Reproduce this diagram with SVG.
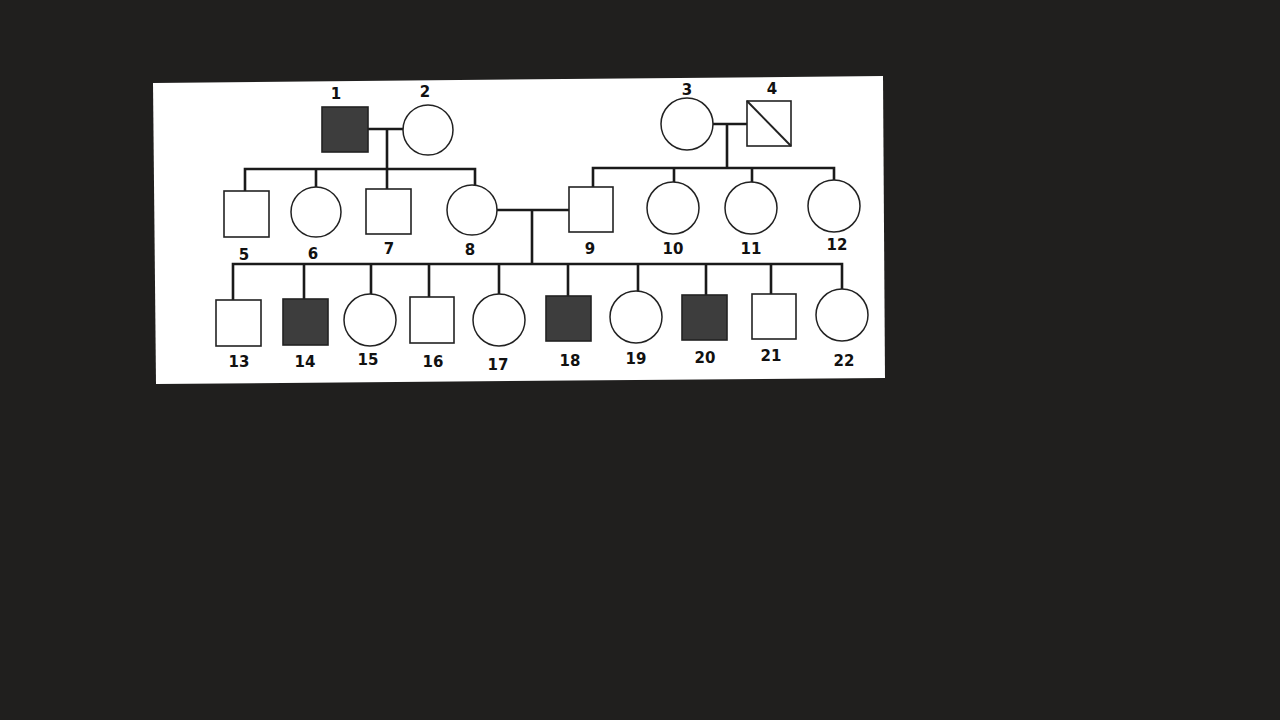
<svg xmlns="http://www.w3.org/2000/svg" width="1280" height="720" viewBox="0 0 1280 720">
<style>
.m{fill:#fff;stroke:#222;stroke-width:1.6}
.a{fill:#3d3d3d;stroke:#222;stroke-width:1.6}
.f{fill:#fff;stroke:#222;stroke-width:1.5}
.c{fill:none;stroke:#1a1a1a;stroke-width:2.6;stroke-linecap:square}
text{font-family:"DejaVu Sans","Liberation Sans",sans-serif;font-weight:bold;font-size:15px;fill:#111;text-anchor:middle}
</style>
<rect width="1280" height="720" fill="#201f1e"/>
<polygon points="153,83 883,76 885,378 156,384" fill="#fff"/>
<g id="connectors">
<path class="c" d="M368,129 H403 M387,129 V169 M245,169 H475 M245,169 V191 M316,169 V187 M387,169 V189 M475,169 V185"/>
<path class="c" d="M713,124 H747 M727,124 V168 M593,168 H834 M593,168 V187 M674,168 V182 M752,168 V182 M834,168 V180"/>
<path class="c" d="M497,210 H569 M532,210 V264 M233,264 H842 M233,264 V300 M304,264 V299 M371,264 V294 M429,264 V297 M499,264 V294 M568,264 V296 M638,264 V291 M706,264 V295 M771,264 V294 M842,264 V289"/>
</g>
<g id="n1"><rect class="a" x="322" y="107" width="46" height="45"/><text x="336" y="99">1</text></g>
<g id="n2"><circle class="f" cx="428" cy="130" r="25"/><text x="425" y="97">2</text></g>
<g id="n3"><circle class="f" cx="687" cy="124" r="26"/><text x="687" y="95">3</text></g>
<g id="n4"><rect class="m" x="747" y="101" width="44" height="45"/><line x1="747" y1="101" x2="791" y2="146" stroke="#222" stroke-width="2"/><text x="772" y="94">4</text></g>
<g id="n5"><rect class="m" x="224" y="191" width="45" height="46"/><text x="244" y="260">5</text></g>
<g id="n6"><circle class="f" cx="316" cy="212" r="25"/><text x="313" y="259">6</text></g>
<g id="n7"><rect class="m" x="366" y="189" width="45" height="45"/><text x="389" y="254">7</text></g>
<g id="n8"><circle class="f" cx="472" cy="210" r="25"/><text x="470" y="255">8</text></g>
<g id="n9"><rect class="m" x="569" y="187" width="44" height="45"/><text x="590" y="254">9</text></g>
<g id="n10"><circle class="f" cx="673" cy="208" r="26"/><text x="673" y="254">10</text></g>
<g id="n11"><circle class="f" cx="751" cy="208" r="26"/><text x="751" y="254">11</text></g>
<g id="n12"><circle class="f" cx="834" cy="206" r="26"/><text x="837" y="250">12</text></g>
<g id="n13"><rect class="m" x="216" y="300" width="45" height="46"/><text x="239" y="367">13</text></g>
<g id="n14"><rect class="a" x="283" y="299" width="45" height="46"/><text x="305" y="367">14</text></g>
<g id="n15"><circle class="f" cx="370" cy="320" r="26"/><text x="368" y="365">15</text></g>
<g id="n16"><rect class="m" x="410" y="297" width="44" height="46"/><text x="433" y="367">16</text></g>
<g id="n17"><circle class="f" cx="499" cy="320" r="26"/><text x="498" y="370">17</text></g>
<g id="n18"><rect class="a" x="546" y="296" width="45" height="45"/><text x="570" y="366">18</text></g>
<g id="n19"><circle class="f" cx="636" cy="317" r="26"/><text x="636" y="364">19</text></g>
<g id="n20"><rect class="a" x="682" y="295" width="45" height="45"/><text x="705" y="363">20</text></g>
<g id="n21"><rect class="m" x="752" y="294" width="44" height="45"/><text x="771" y="361">21</text></g>
<g id="n22"><circle class="f" cx="842" cy="315" r="26"/><text x="844" y="366">22</text></g>
</svg>
